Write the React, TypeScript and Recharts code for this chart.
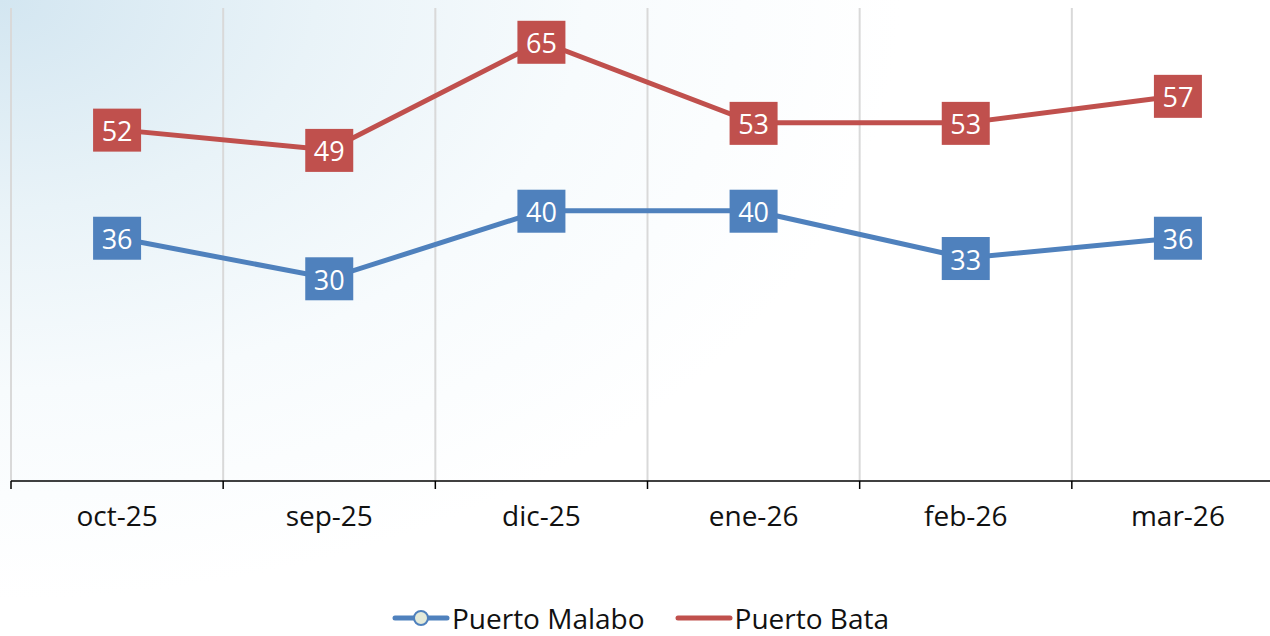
import React from "react"
import {
  CartesianGrid,
  LabelList,
  Legend,
  Line,
  LineChart,
  XAxis,
  YAxis,
} from "recharts"

// meses (en el orden del gráfico original)
const months = ["oct-25", "sep-25", "dic-25", "ene-26", "feb-26", "mar-26"]
const malabo = [36, 30, 40, 40, 33, 36]
const bata = [52, 49, 65, 53, 53, 57]

const BLUE = "#4f81bd"
const RED = "#c0504d"
const FONT = "'Open Sans', 'Noto Sans', sans-serif"

// x numérico: centro de cada mes en i + 0.5, bordes en enteros
const data = months.map((m, i) => ({
  x: i + 0.5,
  month: m,
  malabo: malabo[i],
  bata: bata[i],
}))
const edgeTicks = months.map((_, i) => i).concat(months.length)
const centerTicks = months.map((_, i) => i + 0.5)

function BoxLabel(color: string) {
  return (props: any) => {
    const { x, y, value } = props
    if (x == null || y == null) return null
    return (
      <g>
        <rect x={x - 24} y={y - 21} width={48} height={43} fill={color} />
        <text
          x={x}
          y={y + 1}
          textAnchor="middle"
          dominantBaseline="central"
          fill="#fff"
          fontSize={27}
          fontFamily={FONT}
        >
          {value}
        </text>
      </g>
    )
  }
}

function LegendContent() {
  const item = (color: string, label: string, marker: boolean) => (
    <div style={{ display: "flex", alignItems: "center", margin: "0 15px" }}>
      <svg width={58} height={16}>
        <line x1={3} y1={8} x2={55} y2={8} stroke={color} strokeWidth={5} strokeLinecap="round" />
        {marker ? <circle cx={29} cy={8} r={7} fill="#e4ead9" stroke={color} strokeWidth={2} /> : null}
      </svg>
      <span style={{ fontSize: 28, color: "#111", fontFamily: FONT, marginLeft: 2, lineHeight: "36px" }}>{label}</span>
    </div>
  )
  return (
    <div style={{ height: 70, display: "flex", justifyContent: "center", alignItems: "flex-end", paddingRight: 14, boxSizing: "border-box", paddingBottom: 0 }}>
      {item(BLUE, "Puerto Malabo", true)}
      {item(RED, "Puerto Bata", false)}
    </div>
  )
}

export default function App() {
  return (
    <div
      style={{
        position: "absolute",
        left: 0,
        top: 0,
        width: 1270,
        height: 636,
        overflow: "hidden",
        background:
          "radial-gradient(ellipse 900px 600px at 0% 0%, #d3e6f1 0%, #e9f3f8 35%, #f7fbfd 65%, #ffffff 100%)",
      }}
    >
      <LineChart
        width={1296}
        height={636}
        data={data}
        margin={{ top: 8, right: 12, bottom: 0, left: 11 }}
      >
        <CartesianGrid horizontal={false} stroke="#d9d9d9" strokeWidth={2} xAxisId="edges" />
        <XAxis
          xAxisId="edges"
          type="number"
          dataKey="x"
          domain={[0, months.length]}
          ticks={edgeTicks}
          tickFormatter={() => ""}
          tickSize={8}
          height={10}
          stroke="#000"
          axisLine={{ stroke: "#000", strokeWidth: 1.5 }}
          tickLine={{ stroke: "#000", strokeWidth: 1.5 }}
        />
        <XAxis
          xAxisId="labels"
          type="number"
          dataKey="x"
          domain={[0, months.length]}
          ticks={centerTicks}
          tickFormatter={(v: number) => months[Math.floor(v)]}
          axisLine={false}
          tickLine={false}
          height={75}
          tickMargin={9}
          tick={{ fontSize: 28, fill: "#111", fontFamily: FONT }}
        />
        <YAxis hide domain={[0, 70]} />
        <Legend verticalAlign="bottom" content={<LegendContent />} />
        <Line
          xAxisId="edges"
          dataKey="malabo"
          name="Puerto Malabo"
          stroke={BLUE}
          strokeWidth={5}
          dot={false}
          isAnimationActive={false}
        >
          <LabelList dataKey="malabo" content={BoxLabel(BLUE)} />
        </Line>
        <Line
          xAxisId="edges"
          dataKey="bata"
          name="Puerto Bata"
          stroke={RED}
          strokeWidth={5}
          dot={false}
          isAnimationActive={false}
        >
          <LabelList dataKey="bata" content={BoxLabel(RED)} />
        </Line>
      </LineChart>
    </div>
  )
}
